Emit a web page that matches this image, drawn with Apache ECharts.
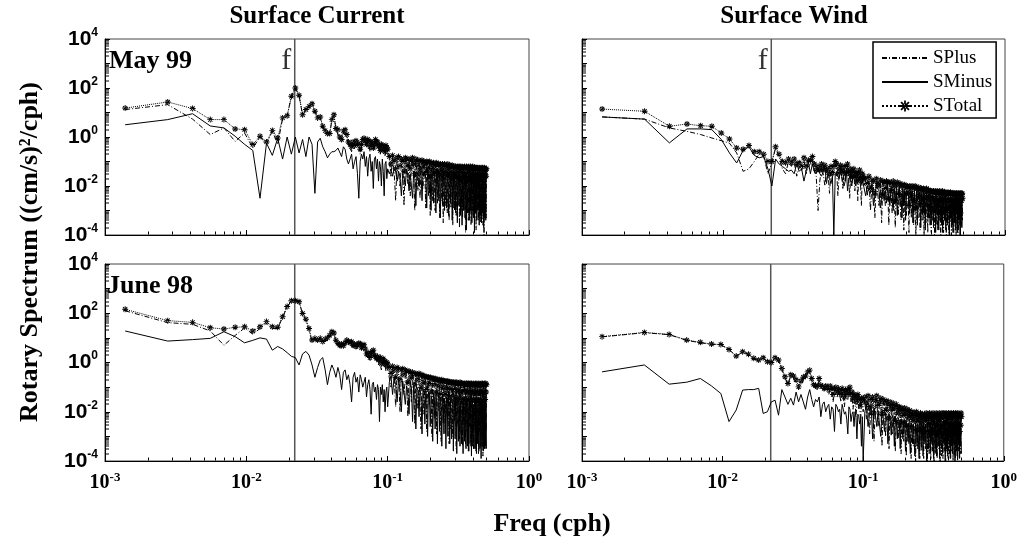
<!DOCTYPE html>
<html><head><meta charset="utf-8">
<script src="https://cdn.jsdelivr.net/npm/echarts@6.0.0/dist/echarts.min.js"></script>
<style>html,body{margin:0;padding:0;background:#fff}#chart{width:1020px;height:539px}</style>
</head><body><div id="chart"></div>
<script>
// ---------------- DATA ----------------
// Frequencies are harmonics of a 30-day hourly record: k/720 cph.
const freqResolution = 1 / 720;
const denseLimit = 72;            // every harmonic up to k=72, every second one above
const inertialFreq = 0.022;       // local inertial frequency f (cph)
const fLabelLevel = 1300;         // height of the "f" marker text
const seriesNames = ['SPlus', 'SMinus', 'STotal'];
const panelTitles = ['Surface Current', 'Surface Wind'];
const periodLabels = ['May 99', 'June 98'];
const xTickExponents = [-3, -2, -1, 0];
const yTickExponents = [-4, -2, 0, 2, 4];

// log10 of rotary spectral density ((cm/s)^2/cph), one value per harmonic
const currentMay99Total = [
1.18,1.43,1.16,0.71,0.71,0.33,0.30,-0.31,0.03,-0.2,
0.27,-0.04,0.78,0.87,1.66,2.0,1.70,0.91,1.12,1.25,
1.36,1.05,0.78,0.82,0.44,0.26,0.14,0.14,0.71,0.91,
0.35,0.30,0.0,-0.1,0.25,0.30,0.1,-0.2,-0.3,-0.4,
-0.2,-0.35,-0.15,-0.3,-0.25,-0.5,-0.3,-0.1,-0.05,-0.15,
-0.3,-0.1,-0.15,-0.4,-0.2,-0.25,-0.45,-0.3,-0.1,-0.2,
-0.2,-0.4,-0.35,-0.55,-0.3,-0.35,-0.5,-0.4,-0.6,-0.35,
-0.45,-0.5,
-0.8,-1.1,-0.75,-0.95,-1.3,-0.85,-0.8,-1.2,-0.9,-1.0,-1.4,-0.85,-0.9,-1.15,
-0.9,-1.3,-0.95,-0.85,-1.1,-1.5,-0.9,-1.0,-1.2,-0.95,-1.35,-1.0,-0.95,-1.25,
-1.0,-1.1,-1.45,-1.0,-1.05,-1.3,-1.0,-1.6,-1.05,-1.1,-1.35,-1.05,-1.2,-1.5,
-1.1,-1.05,-1.4,-1.15,-1.1,-1.55,-1.1,-1.2,-1.35,-1.1,-1.7,-1.15,-1.1,-1.4,
-1.2,-1.15,-1.5,-1.1,-1.25,-1.6,-1.15,-1.2,-1.45,-1.2,-1.15,-1.7,-1.2,-1.3,
-1.5,-1.2,-1.2,-1.6,-1.25,-1.2,-1.45,-1.3,-1.2,-1.75,-1.2,-1.25,-1.5,-1.3,
-1.2,-1.6,-1.25,-1.3,-1.5,-1.2,-1.25,-1.8,-1.25,-1.2,-1.5,-1.3,-1.25,-1.65,
-1.2,-1.3,-1.55,-1.25,-1.2,-1.7,-1.3,-1.25,-1.5,-1.2,-1.3,-1.6,-1.25,-1.25,
-1.55,-1.3,-1.25,-1.8,-1.25,-1.3,-1.5,-1.25,-1.3,-1.65,-1.3,-1.25,-1.5,-1.3,
-1.3,-1.7,-1.25,-1.3,-1.55,-1.3,-1.25,-1.6,-1.3,-1.3,-1.75,-1.25,-1.3,-1.5,
-1.3,-1.35,-1.6,-1.3];
const currentMay99Plus = [
1.12,1.32,0.73,0.1,0.37,-0.18,0.16,-0.45,0.0,-0.3,
0.25,-0.3,0.75,0.85,1.65,2.0,1.69,0.9,1.1,1.24,
1.35,1.05,0.76,0.8,0.4,0.22,0.1,0.08,0.7,0.9,
0.3,0.25,-0.1,-0.2,0.2,0.25,0.0,-0.35,-0.45,-0.6,
-0.25,-0.5,-0.3,-0.35,-0.25,-0.7,-0.5,-0.2,-0.15,-0.2,
-0.4,-0.15,-0.25,-0.6,-0.25,-0.35,-0.5,-0.45,-0.2,-0.3,
-0.3,-0.45,-0.5,-0.7,-0.35,-0.5,-0.6,-0.45,-0.8,-0.5,
-0.55,-0.65,
-0.9,-1.6,-0.85,-1.4,-2.6,-0.95,-1.0,-2.0,-1.1,-1.3,-2.8,-0.95,-1.2,-1.9,
-1.0,-2.4,-1.2,-0.95,-1.6,-3.0,-1.0,-1.4,-2.2,-1.1,-2.5,-1.3,-1.05,-2.1,
-1.15,-1.6,-2.9,-1.1,-1.4,-2.4,-1.15,-3.2,-1.2,-1.5,-2.6,-1.2,-1.7,-3.0,
-1.25,-1.4,-2.7,-1.3,-1.6,-3.3,-1.25,-1.7,-2.6,-1.3,-3.5,-1.3,-1.5,-2.8,
-1.4,-1.5,-3.1,-1.25,-1.7,-3.4,-1.3,-1.6,-2.9,-1.4,-1.5,-3.6,-1.35,-1.8,
-3.0,-1.35,-1.6,-3.2,-1.4,-1.5,-2.8,-1.5,-1.6,-3.7,-1.35,-1.7,-3.0,-1.5,
-1.4,-3.3,-1.4,-1.8,-3.0,-1.35,-1.6,-3.9,-1.4,-1.5,-3.1,-1.5,-1.4,-3.4,
-1.35,-1.7,-3.2,-1.4,-1.5,-3.6,-1.5,-1.45,-3.0,-1.35,-1.7,-3.3,-1.4,-1.5,
-3.1,-1.5,-1.4,-3.8,-1.4,-1.7,-3.0,-1.4,-1.6,-3.4,-1.5,-1.45,-3.2,-1.5,
-1.6,-3.5,-1.4,-1.7,-3.1,-1.5,-1.4,-3.6,-1.5,-1.6,-4.0,-1.4,-1.7,-3.0,
-1.5,-1.6,-3.3,-1.5];
const currentMay99Minus = [
0.50,0.71,0.95,0.45,0.37,0.03,-0.3,-0.55,-2.5,-0.25,
-0.75,-0.05,-0.9,0.0,-0.7,0.0,-0.65,-0.1,-0.8,0.0,
-0.3,-2.3,-0.2,-0.05,-0.4,-0.6,-0.85,-0.7,-0.6,-0.6,
-0.55,-0.45,-0.5,-0.8,-0.4,-0.5,-0.9,-1.1,-0.9,-0.7,
-1.3,-1.0,-0.8,-1.5,-2.5,-1.0,-0.7,-0.9,-0.6,-1.2,
-0.8,-1.6,-0.9,-0.7,-1.4,-1.0,-2.1,-0.9,-0.8,-1.3,
-0.9,-1.8,-1.0,-1.2,-2.0,-0.9,-1.4,-2.4,-1.1,-1.0,
-1.7,-1.3,
-1.5,-1.3,-1.6,-1.3,-1.4,-1.8,-1.4,-1.6,-2.4,-1.5,-1.7,-2.0,-1.3,-1.6,
-2.2,-1.5,-1.5,-2.5,-1.4,-1.7,-2.8,-1.4,-1.6,-2.0,-1.6,-1.4,-2.6,-1.5,
-1.6,-1.4,-1.7,-2.9,-1.3,-1.5,-2.3,-1.7,-3.0,-1.4,-1.6,-2.7,-1.4,-1.7,
-3.1,-1.3,-1.6,-2.6,-1.4,-1.8,-3.3,-1.4,-1.5,-2.8,-1.8,-1.4,-3.0,-1.6,
-1.5,-2.9,-1.7,-1.4,-3.2,-1.7,-1.5,-2.7,-1.6,-1.4,-3.4,-1.8,-1.5,-2.9,
-1.6,-1.5,-3.1,-1.7,-1.5,-3.5,-1.6,-1.5,-2.8,-1.9,-1.5,-3.2,-1.6,-1.6,
-3.6,-1.7,-1.5,-3.0,-1.6,-1.5,-3.3,-1.7,-1.5,-3.8,-1.6,-1.6,-3.1,-1.7,
-1.5,-3.4,-1.7,-1.5,-3.0,-1.8,-1.5,-3.5,-1.6,-1.5,-3.2,-1.7,-1.5,-3.9,
-1.7,-1.6,-3.1,-1.8,-1.5,-3.4,-1.6,-1.5,-3.0,-1.8,-1.6,-3.6,-1.6,-1.6,
-3.2,-1.8,-1.6,-3.5,-1.7,-1.5,-3.1,-1.8,-1.6,-3.7,-1.6,-1.6,-3.3,-1.7,
-1.6,-3.4,-1.7,-1.6];

const windMay99Total = [
1.14,1.05,0.44,0.53,0.46,0.44,0.16,-0.08,-0.45,-0.5,
-0.35,-0.6,-0.6,-0.7,-1.0,-1.0,-0.4,-0.7,-1.0,-1.05,
-0.9,-1.05,-0.9,-1.1,-1.05,-1.2,-0.85,-1.2,-0.95,-0.95,
-0.8,-1.1,-1.35,-1.2,-1.35,-1.1,-1.3,-1.15,-1.35,-1.3,
-1.5,-1.2,-1.45,-1.2,-1.0,-1.1,-1.5,-1.3,-1.15,-1.35,
-1.45,-1.2,-1.5,-1.2,-1.1,-1.4,-1.5,-1.3,-1.6,-1.4,
-1.3,-1.6,-1.55,-1.45,-1.7,-1.5,-1.35,-1.65,-1.8,-1.5,
-1.6,-1.7,
-1.7,-1.9,-1.6,-2.1,-1.75,-1.8,-2.3,-1.7,-1.9,-2.0,-1.75,-2.4,-1.8,-1.85,
-2.1,-1.8,-1.85,-2.5,-1.85,-1.9,-2.2,-1.8,-2.0,-2.6,-1.9,-1.85,-2.3,-1.95,
-1.9,-2.4,-2.0,-1.95,-2.7,-1.95,-2.0,-2.3,-2.0,-2.1,-2.8,-2.0,-2.05,-2.4,
-2.0,-2.1,-2.6,-2.05,-2.0,-2.9,-2.1,-2.1,-2.4,-2.05,-2.2,-2.7,-2.1,-2.1,
-2.5,-2.15,-2.1,-3.0,-2.15,-2.2,-2.5,-2.1,-2.2,-2.8,-2.15,-2.2,-2.4,-2.2,
-2.2,-2.9,-2.2,-2.25,-2.5,-2.2,-2.25,-3.0,-2.2,-2.3,-2.6,-2.25,-2.2,-2.8,
-2.3,-2.25,-2.5,-2.2,-2.3,-3.1,-2.25,-2.3,-2.6,-2.2,-2.3,-2.9,-2.3,-2.25,
-2.5,-2.3,-2.25,-3.0,-2.3,-2.3,-2.6,-2.25,-2.3,-2.9,-2.3,-2.3,-2.55,-2.25,
-2.3,-3.1,-2.3,-2.35,-2.6,-2.3,-2.3,-2.9,-2.35,-2.3,-2.5,-2.3,-2.35,-3.0,
-2.3,-2.3,-2.6,-2.35,-2.3,-2.95,-2.3,-2.35,-2.5,-2.3,-2.35,-3.1,-2.3,-2.3,
-2.6,-2.35,-2.3,-2.5];
const windMay99Plus = [
0.82,0.73,0.37,0.23,0.1,-0.04,-0.15,-0.25,-0.65,-1.4,
-1.3,-1.0,-0.7,-0.8,-1.5,-1.05,-0.45,-0.8,-1.3,-1.5,
-1.0,-1.2,-1.0,-1.6,-1.2,-1.4,-0.95,-1.5,-1.2,-1.1,
-0.9,-1.4,-1.6,-3.0,-1.8,-1.2,-1.5,-2.0,-1.4,-1.5,
-2.3,-1.3,-1.7,-1.4,-1.1,-1.3,-2.4,-1.5,-1.3,-1.6,
-2.1,-1.3,-1.8,-1.4,-1.2,-1.6,-2.5,-1.4,-1.9,-1.6,
-1.4,-2.2,-1.7,-1.6,-2.6,-1.6,-1.5,-1.9,-2.8,-1.6,
-1.8,-2.0,
-1.8,-2.4,-1.7,-3.0,-1.9,-2.0,-3.3,-1.8,-2.3,-2.8,-1.9,-3.5,-1.9,-2.1,
-2.8,-1.9,-2.1,-3.6,-2.0,-2.2,-3.1,-1.9,-2.4,-3.7,-2.0,-2.0,-3.2,-2.1,
-2.1,-3.4,-2.1,-2.2,-3.8,-2.1,-2.3,-3.2,-2.1,-2.4,-3.9,-2.1,-2.3,-3.3,
-2.2,-2.4,-3.6,-2.2,-2.2,-4.0,-2.3,-2.4,-3.3,-2.2,-2.5,-3.8,-2.3,-2.3,
-3.4,-2.3,-2.4,-4.0,-2.3,-2.5,-3.5,-2.3,-2.5,-3.9,-2.3,-2.4,-3.3,-2.4,
-2.4,-3.9,-2.4,-2.5,-3.4,-2.4,-2.5,-4.0,-2.4,-2.6,-3.6,-2.4,-2.4,-3.8,
-2.5,-2.45,-3.4,-2.4,-2.6,-4.0,-2.35,-2.5,-3.6,-2.45,-2.55,-3.9,-2.5,-2.4,
-3.4,-2.55,-2.4,-4.0,-2.5,-2.45,-3.6,-2.4,-2.55,-3.9,-2.5,-2.45,-3.5,-2.4,
-2.5,-4.0,-2.45,-2.6,-3.6,-2.5,-2.4,-3.9,-2.55,-2.5,-3.4,-2.45,-2.6,-4.0,
-2.5,-2.4,-3.6,-2.55,-2.5,-3.9,-2.45,-2.6,-3.4,-2.5,-2.4,-4.0,-2.55,-2.5,
-3.6,-2.45,-2.55,-3.4];
const windMay99Minus = [
0.82,0.73,-0.24,0.33,0.33,0.3,-0.1,-0.65,-1.06,-0.55,
-0.4,-0.75,-0.85,-0.8,-1.3,-2.0,-0.9,-1.1,-1.2,-1.3,
-1.4,-1.35,-1.5,-1.1,-1.4,-1.3,-1.8,-1.4,-1.0,-1.5,
-1.1,-1.4,-1.5,-1.25,-1.5,-1.6,-1.6,-1.2,-1.9,-1.5,
-1.7,-1.9,-1.6,-4.0,-1.5,-1.5,-1.6,-1.7,-1.4,-1.6,
-1.6,-2.0,-1.8,-1.3,-2.2,-1.8,-1.6,-1.6,-2.0,-1.6,
-1.7,-1.8,-2.0,-1.7,-1.9,-1.8,-1.6,-2.0,-1.9,-1.8,
-1.9,-1.9,
-2.4,-2.0,-2.2,-2.3,-1.9,-2.8,-2.4,-2.0,-2.1,-2.2,-2.9,-2.6,-2.1,-2.6,
-2.2,-2.7,-1.9,-2.6,-2.8,-2.0,-2.3,-3.0,-2.1,-2.7,-2.2,-3.2,-2.4,-2.0,
-2.8,-2.5,-3.3,-2.1,-2.8,-2.2,-3.4,-2.4,-2.3,-2.2,-2.9,-3.1,-2.2,-2.6,
-2.2,-3.5,-2.7,-2.3,-3.0,-2.9,-2.2,-3.6,-2.6,-2.3,-2.3,-2.8,-3.7,-2.3,
-2.6,-3.2,-2.2,-3.1,-2.4,-3.8,-2.7,-2.3,-2.3,-3.0,-3.3,-2.4,-2.5,-3.6,
-2.4,-3.0,-3.4,-2.4,-2.6,-3.7,-2.5,-3.1,-2.4,-3.9,-2.6,-2.4,-3.2,-3.0,
-2.5,-3.8,-2.6,-2.4,-3.3,-2.9,-2.5,-3.6,-2.4,-3.9,-2.7,-2.5,-3.0,-3.4,
-2.4,-2.6,-3.8,-2.5,-2.6,-3.1,-3.5,-2.5,-2.6,-2.5,-4.0,-2.5,-2.7,-3.3,
-3.0,-2.5,-3.6,-2.5,-2.7,-3.9,-2.5,-2.6,-3.2,-3.5,-2.5,-2.7,-3.8,-2.6,
-3.1,-2.5,-2.7,-3.9,-2.5,-3.3,-2.6,-3.6,-2.5,-2.7,-4.0,-2.6,-3.0,-2.6,
-2.5,-3.7,-2.6,-2.6];

const currentJun98Total = [
2.16,1.70,1.63,1.41,1.36,1.43,1.45,1.28,1.45,1.66,
1.45,1.43,1.86,2.27,2.51,2.51,2.47,1.99,1.76,1.38,
0.91,0.98,0.91,0.98,0.85,0.95,1.0,1.11,1.25,1.2,
0.9,0.78,0.7,0.75,0.68,0.8,0.91,0.85,0.8,0.84,
0.7,0.75,0.65,0.72,0.78,0.76,0.6,0.68,0.72,0.55,
0.35,0.3,0.4,0.2,0.35,0.45,0.5,0.3,0.25,0.17,
0.25,0.1,0.15,0.2,-0.05,0.1,0.15,0.0,0.05,-0.1,
0.0,-0.05,
-0.2,-0.45,-0.15,-0.3,-0.6,-0.2,-0.25,-0.7,-0.3,-0.25,-0.5,-0.3,-0.35,-0.8,
-0.35,-0.4,-0.6,-0.4,-0.45,-0.9,-0.45,-0.5,-0.7,-0.45,-0.5,-1.0,-0.5,-0.55,
-0.8,-0.55,-0.6,-1.1,-0.6,-0.6,-0.85,-0.6,-0.65,-1.2,-0.65,-0.65,-0.9,-0.65,
-0.7,-1.2,-0.7,-0.7,-0.95,-0.7,-0.75,-1.3,-0.7,-0.75,-1.0,-0.75,-0.75,-1.3,
-0.75,-0.8,-1.05,-0.75,-0.8,-1.4,-0.8,-0.8,-1.1,-0.8,-0.8,-1.35,-0.8,-0.85,
-1.1,-0.8,-0.85,-1.45,-0.8,-0.85,-1.15,-0.85,-0.85,-1.4,-0.8,-0.85,-1.2,-0.85,
-0.85,-1.5,-0.85,-0.9,-1.15,-0.85,-0.9,-1.45,-0.85,-0.85,-1.2,-0.9,-0.85,-1.5,
-0.85,-0.9,-1.2,-0.85,-0.9,-1.55,-0.85,-0.9,-1.2,-0.9,-0.85,-1.5,-0.9,-0.9,
-1.25,-0.85,-0.9,-1.5,-0.9,-0.85,-1.2,-0.9,-0.9,-1.55,-0.85,-0.9,-1.25,-0.9,
-0.9,-1.5,-0.85,-0.9,-1.2,-0.9,-0.85,-1.6,-0.9,-0.9,-1.25,-0.85,-0.9,-1.5,
-0.9,-0.85,-1.2,-0.9];
const currentJun98Plus = [
2.1,1.62,1.55,1.28,0.7,1.1,1.4,1.15,1.38,1.6,
1.38,1.38,1.83,2.26,2.5,2.5,2.46,1.97,1.72,1.3,
0.85,0.92,0.85,0.92,0.78,0.9,0.95,1.08,1.22,1.17,
0.85,0.7,0.6,0.68,0.58,0.74,0.87,0.8,0.74,0.78,
0.6,0.72,0.55,0.66,0.74,0.7,0.5,0.6,0.67,0.45,
0.2,0.15,0.32,0.05,0.25,0.38,0.45,0.2,0.1,0.05,
0.15,-0.1,0.05,0.1,-0.3,0.0,0.05,-0.2,-0.1,-0.35,
-0.15,-0.25,
-0.3,-1.0,-0.25,-0.6,-1.8,-0.35,-0.5,-2.0,-0.45,-0.4,-1.3,-0.6,-0.5,-2.2,
-0.55,-0.7,-1.6,-0.5,-0.85,-2.5,-0.65,-0.6,-1.9,-0.75,-0.7,-2.7,-0.6,-0.9,
-2.1,-0.8,-0.7,-2.8,-0.95,-0.75,-1.7,-0.8,-1.0,-3.0,-0.85,-0.8,-2.3,-1.0,
-0.85,-2.9,-0.9,-1.05,-2.0,-0.95,-0.9,-3.2,-0.85,-1.1,-2.5,-0.95,-1.0,-2.9,
-1.1,-0.9,-2.2,-1.0,-1.15,-3.3,-0.95,-1.0,-2.7,-1.2,-0.95,-3.0,-1.05,-1.1,
-2.4,-0.95,-1.2,-3.5,-1.0,-1.05,-2.6,-1.2,-0.95,-3.1,-1.1,-1.0,-2.9,-1.25,
-1.0,-3.4,-1.1,-1.2,-2.5,-0.95,-1.15,-3.3,-1.05,-1.25,-2.8,-1.0,-1.1,-3.6,
-1.2,-1.0,-2.6,-1.15,-1.0,-3.4,-1.25,-1.05,-3.0,-1.1,-1.2,-3.5,-1.0,-1.15,
-2.7,-1.2,-1.0,-3.6,-1.1,-1.25,-2.9,-1.0,-1.15,-3.7,-1.2,-1.05,-2.8,-1.15,
-1.0,-3.4,-1.2,-1.1,-3.0,-1.05,-1.2,-3.8,-1.1,-1.0,-2.9,-1.2,-1.1,-3.5,
-1.05,-1.2,-2.8,-1.1];
const currentJun98Minus = [
1.28,0.87,0.93,0.98,1.25,1.05,0.8,0.9,1.0,0.95,
0.5,0.65,0.55,0.4,0.25,0.2,-0.1,0.35,0.45,0.3,
-0.1,-0.6,-0.2,0.1,0.2,-0.3,-0.9,-0.4,-0.1,-0.3,
-0.6,-0.2,-0.5,-1.1,-0.4,-0.3,-0.7,-0.5,-0.9,-1.6,
-0.6,-0.4,-0.8,-0.6,-1.2,-0.5,-0.7,-1.0,-0.8,-0.6,
-1.4,-0.9,-0.7,-1.1,-2.1,-0.9,-0.8,-1.2,-1.0,-1.5,
-0.9,-1.1,-2.4,-1.0,-1.3,-0.9,-1.6,-1.1,-2.0,-1.2,
-1.0,-1.8,
-0.8,-0.55,-1.3,-0.6,-0.9,-1.6,-0.65,-1.1,-2.0,-0.75,-0.8,-1.7,-0.95,-1.2,
-2.1,-0.85,-1.0,-2.4,-0.95,-1.3,-2.7,-1.0,-1.15,-2.2,-1.1,-1.4,-2.9,-1.05,
-1.25,-2.5,-1.15,-1.45,-3.0,-1.2,-1.3,-2.6,-1.35,-1.5,-3.2,-1.25,-1.4,-2.7,
-1.3,-1.6,-3.3,-1.35,-1.45,-2.8,-1.4,-1.7,-3.4,-1.3,-1.5,-2.9,-1.45,-1.65,
-3.5,-1.4,-1.55,-3.0,-1.35,-1.75,-3.3,-1.5,-1.45,-3.1,-1.6,-1.7,-3.6,-1.45,
-1.55,-3.1,-1.4,-1.85,-3.7,-1.5,-1.6,-3.2,-1.45,-1.9,-3.4,-1.55,-1.5,-3.3,
-1.6,-1.95,-3.7,-1.5,-1.65,-3.2,-1.55,-1.9,-3.5,-1.6,-1.5,-3.4,-1.65,-2.0,
-3.6,-1.5,-1.7,-3.3,-1.55,-2.1,-3.8,-1.6,-1.5,-3.4,-1.7,-2.0,-3.5,-1.55,
-1.65,-3.5,-1.5,-2.1,-3.7,-1.6,-1.55,-3.3,-1.7,-2.0,-3.6,-1.5,-1.65,-3.5,
-1.6,-2.1,-3.9,-1.55,-1.7,-3.4,-1.5,-2.0,-3.6,-1.65,-1.55,-3.5,-1.6,-2.1,
-3.4,-1.55,-1.7,-3.5];

const windJun98Total = [
1.05,1.22,1.14,0.91,0.82,0.75,0.73,0.53,0.26,0.44,
0.34,0.17,0.1,0.19,0.03,0.0,0.19,0.1,-0.24,-0.58,
-0.85,-0.5,-0.55,-0.7,-0.99,-0.75,-0.6,-0.55,-0.38,-0.31,
-0.65,-0.9,-0.92,-0.98,-0.65,-0.92,-0.98,-1.05,-0.95,-0.98,
-1.1,-0.95,-1.05,-1.3,-1.05,-1.0,-1.2,-1.05,-1.15,-1.3,
-1.05,-1.2,-1.4,-1.1,-1.15,-1.25,-1.05,-1.0,-1.3,-1.2,
-1.45,-1.3,-1.35,-1.6,-1.4,-1.3,-1.5,-1.45,-1.7,-1.45,
-1.5,-1.55,
-1.4,-1.65,-1.35,-1.85,-1.5,-1.4,-2.05,-1.55,-1.35,-1.75,-1.6,-1.45,-2.1,-1.5,
-1.6,-1.95,-1.55,-1.7,-2.25,-1.6,-1.75,-1.9,-1.65,-1.8,-2.35,-1.7,-1.85,-2.05,
-1.8,-1.9,-2.45,-1.85,-1.95,-2.15,-1.85,-2.0,-2.55,-1.9,-2.05,-2.25,-1.95,-2.1,
-2.6,-2.0,-2.15,-2.3,-2.05,-2.2,-2.7,-2.0,-2.15,-2.4,-2.1,-2.25,-2.75,-2.05,
-2.2,-2.45,-2.1,-2.25,-2.85,-2.1,-2.2,-2.35,-2.05,-2.3,-2.8,-2.1,-2.2,-2.5,
-2.05,-2.25,-2.9,-2.1,-2.2,-2.45,-2.05,-2.3,-2.85,-2.1,-2.15,-2.55,-2.05,-2.25,
-2.95,-2.1,-2.2,-2.4,-2.05,-2.25,-2.8,-2.1,-2.2,-2.6,-2.05,-2.2,-2.9,-2.15,
-2.05,-2.5,-2.15,-2.25,-2.85,-2.05,-2.2,-2.45,-2.1,-2.25,-2.95,-2.05,-2.2,-2.55,
-2.1,-2.2,-2.8,-2.05,-2.25,-2.5,-2.1,-2.2,-2.9,-2.05,-2.15,-2.6,-2.1,-2.25,
-2.85,-2.05,-2.2,-2.45,-2.1,-2.25,-2.95,-2.05,-2.2,-2.5,-2.1,-2.15,-2.8,-2.1,
-2.2,-2.55,-2.05,-2.2];
const windJun98Plus = [
1.04,1.21,1.13,0.9,0.8,0.74,0.72,0.53,0.25,0.43,
0.33,0.15,0.08,0.18,0.0,-0.03,0.17,0.09,-0.27,-0.62,
-0.9,-0.55,-0.65,-0.8,-1.1,-0.9,-0.7,-0.6,-0.4,-0.35,
-0.7,-1.0,-1.0,-1.1,-0.7,-1.0,-1.1,-1.2,-1.05,-1.1,
-1.3,-1.05,-1.2,-1.6,-1.2,-1.1,-1.4,-1.2,-1.3,-1.6,
-1.2,-1.4,-1.8,-1.25,-1.3,-1.5,-1.2,-1.1,-1.6,-1.4,
-1.9,-1.5,-1.6,-2.2,-1.7,-1.5,-1.9,-1.7,-2.4,-1.7,
-1.8,-2.0,
-1.5,-2.3,-1.45,-2.9,-1.65,-1.5,-3.2,-1.7,-1.45,-2.6,-1.75,-1.6,-3.4,-1.65,
-1.8,-3.0,-1.7,-1.9,-3.5,-1.75,-1.95,-2.9,-1.8,-2.0,-3.6,-1.85,-2.05,-3.1,
-1.95,-2.1,-3.7,-2.0,-2.15,-3.2,-2.0,-2.2,-3.8,-2.05,-2.25,-3.3,-2.1,-2.3,
-3.9,-2.15,-2.35,-3.4,-2.2,-2.4,-4.0,-2.15,-2.35,-3.5,-2.25,-2.45,-3.9,-2.2,
-2.4,-3.6,-2.25,-2.45,-3.9,-2.3,-2.4,-3.5,-2.2,-2.5,-4.0,-2.3,-2.4,-3.7,
-2.2,-2.45,-3.9,-2.3,-2.4,-3.6,-2.2,-2.5,-4.0,-2.3,-2.35,-3.7,-2.2,-2.45,
-3.9,-2.3,-2.4,-3.5,-2.2,-2.45,-4.0,-2.3,-2.4,-3.8,-2.2,-2.4,-3.9,-2.35,
-2.2,-3.6,-2.35,-2.45,-4.0,-2.2,-2.4,-3.6,-2.3,-2.45,-3.9,-2.2,-2.4,-3.7,
-2.3,-2.4,-3.9,-2.2,-2.45,-3.6,-2.3,-2.4,-4.0,-2.2,-2.35,-3.8,-2.3,-2.45,
-3.9,-2.2,-2.4,-3.6,-2.3,-2.45,-4.0,-2.2,-2.4,-3.6,-2.3,-2.35,-3.9,-2.25,
-2.4,-3.7,-2.2,-2.4];
const windJun98Minus = [
-0.38,-0.1,-0.88,-0.8,-0.65,-0.95,-1.26,-2.4,-1.93,-1.12,
-1.1,-1.1,-1.05,-2.07,-2.0,-1.6,-1.53,-2.14,-1.1,-1.4,
-1.7,-1.45,-1.73,-1.2,-1.6,-1.3,-1.6,-1.9,-1.4,-1.1,
-1.5,-1.8,-1.5,-1.6,-1.4,-2.2,-1.7,-1.6,-2.0,-1.8,
-1.7,-2.3,-1.8,-1.9,-2.8,-1.7,-1.8,-2.0,-1.9,-2.5,
-1.7,-1.9,-2.1,-2.0,-2.3,-2.9,-1.8,-1.9,-2.4,-2.1,
-2.0,-2.6,-2.0,-2.2,-3.1,-2.1,-2.2,-2.5,-2.3,-3.4,
-2.2,-4.0,
-2.0,-1.75,-2.6,-2.05,-1.7,-3.1,-1.85,-2.15,-2.6,-1.95,-2.0,-3.0,-1.95,-2.25,
-2.8,-2.05,-2.15,-3.3,-2.1,-2.3,-2.95,-2.15,-2.25,-3.4,-2.2,-2.4,-3.1,-2.25,
-2.35,-3.5,-2.3,-2.5,-3.1,-2.35,-2.45,-3.6,-2.4,-2.55,-3.2,-2.45,-2.5,-3.7,
-2.45,-2.6,-3.3,-2.5,-2.55,-3.8,-2.45,-2.65,-3.4,-2.5,-2.55,-3.9,-2.5,-2.6,
-3.4,-2.5,-2.6,-3.8,-2.45,-2.65,-3.3,-2.5,-2.55,-4.0,-2.45,-2.65,-3.5,-2.5,
-2.6,-3.7,-2.45,-2.65,-3.3,-2.5,-2.55,-3.9,-2.45,-2.7,-3.5,-2.5,-2.6,-3.8,
-2.45,-2.65,-3.3,-2.5,-2.6,-3.9,-2.45,-2.7,-3.4,-2.5,-2.55,-3.7,-2.45,-2.65,
-3.3,-2.5,-2.6,-4.0,-2.45,-2.65,-3.5,-2.5,-2.55,-3.8,-2.45,-2.7,-3.3,-2.5,
-2.6,-3.9,-2.45,-2.65,-3.4,-2.5,-2.55,-3.7,-2.45,-2.7,-3.3,-2.5,-2.6,-4.0,
-2.45,-2.65,-3.5,-2.5,-2.55,-3.8,-2.45,-2.7,-3.3,-2.5,-2.6,-3.9,-2.45,-2.65,
-3.4,-2.5,-2.55,-3.7];

// ---------------- BUILD ----------------
const harmonics = [];
for (let k = 1; k <= 360; k++) { if (k <= denseLimit || k % 2 === 0) harmonics.push(k); }
const freqs = harmonics.map(k => k * freqResolution);
function toPoints(logVals) { return logVals.map((v, i) => [freqs[i], Math.pow(10, v)]); }

const panels = [
  { plus: currentMay99Plus, minus: currentMay99Minus, total: currentMay99Total, showF: true },
  { plus: windMay99Plus, minus: windMay99Minus, total: windMay99Total, showF: true },
  { plus: currentJun98Plus, minus: currentJun98Minus, total: currentJun98Total, showF: false },
  { plus: windJun98Plus, minus: windJun98Minus, total: windJun98Total, showF: false }
];
const gridBoxes = [[105, 39, 424, 196], [582, 39, 423, 196], [105, 264, 424, 197], [582, 264, 423, 197]];
const Y_MIN = 1e-4, Y_MAX = 1e4, X_MIN = 1e-3, X_MAX = 1;

const SERIF = '"Liberation Serif", "Times New Roman", serif';
const SANS = '"Liberation Sans", Arial, sans-serif';
const asterisk = 'path://M-1.6,-10L1.6,-10L1.6,10L-1.6,10Z M-10,-1.6L10,-1.6L10,1.6L-10,1.6Z M-8.2,-5.9L5.9,8.2L8.2,5.9L-5.9,-8.2Z M-8.2,5.9L5.9,-8.2L8.2,-5.9L-5.9,8.2Z';

function powerLabel(v) {
  const e = Math.round(Math.log10(v));
  return xTickExponents.indexOf(e) >= 0 ? '{b|10}{s|' + e + '}' : '';
}
function yPowerLabel(v) {
  const e = Math.round(Math.log10(v));
  return yTickExponents.indexOf(e) >= 0 ? '{b|10}{s|' + e + '}' : '';
}
const xRich = {
  b: { fontFamily: SERIF, fontWeight: 'bold', fontSize: 20, color: '#000', verticalAlign: 'bottom', lineHeight: 20 },
  s: { fontFamily: SERIF, fontWeight: 'bold', fontSize: 13, color: '#000', verticalAlign: 'bottom', lineHeight: 13, padding: [0, 0, 9, 0] }
};
const yRich = {
  b: { fontFamily: SANS, fontWeight: 'bold', fontSize: 21, color: '#000', verticalAlign: 'bottom', lineHeight: 21 },
  s: { fontFamily: SANS, fontWeight: 'bold', fontSize: 12, color: '#000', verticalAlign: 'bottom', lineHeight: 12, padding: [0, 0, 11, 0] }
};

// minor tick values (2..9 per decade)
const minorX = [], minorY = [];
for (let d = -3; d < 0; d++) for (let m = 2; m <= 9; m++) minorX.push(m * Math.pow(10, d));
for (let d = -4; d < 4; d++) for (let m = 2; m <= 9; m++) minorY.push(m * Math.pow(10, d));

const grid = [], xAxis = [], yAxis = [], series = [];
gridBoxes.forEach((b, g) => {
  grid.push({ left: b[0], top: b[1], width: b[2], height: b[3], show: true, borderColor: '#444', borderWidth: 1, backgroundColor: 'transparent' });
  xAxis.push({
    type: 'log', logBase: 10, gridIndex: g, min: X_MIN, max: X_MAX, splitNumber: 3,
    axisLine: { show: true, onZero: false, lineStyle: { color: '#000', width: 1 } },
    axisTick: { show: true, inside: true, length: 5, lineStyle: { color: '#000', width: 1 } },
    minorTick: { show: false }, splitLine: { show: false },
    axisLabel: { show: g >= 2, margin: 12, formatter: powerLabel, rich: xRich, showMinLabel: true, showMaxLabel: true, hideOverlap: false }
  });
  yAxis.push({
    type: 'log', logBase: 10, gridIndex: g, min: Y_MIN, max: Y_MAX, splitNumber: 8,
    axisLine: { show: true, onZero: false, lineStyle: { color: '#000', width: 1 } },
    axisTick: { show: true, inside: true, length: 5, lineStyle: { color: '#000', width: 1 } },
    minorTick: { show: false }, splitLine: { show: false },
    axisLabel: { show: g % 2 === 0, margin: 7, formatter: yPowerLabel, rich: yRich, showMinLabel: true, showMaxLabel: true, hideOverlap: false }
  });
  const p = panels[g];
  // vertical line at the inertial frequency
  series.push({
    name: 'inertial', type: 'line', xAxisIndex: g, yAxisIndex: g,
    data: [[inertialFreq, Y_MIN], [inertialFreq, Y_MAX]], symbol: 'none', silent: true,
    lineStyle: { color: '#555', width: 1.5, type: 'solid' }, z: 2
  });
  series.push({
    name: 'SMinus', type: 'line', xAxisIndex: g, yAxisIndex: g, data: toPoints(p.minus),
    symbol: 'none', lineStyle: { color: '#000', width: 1, type: 'solid' }, itemStyle: { color: '#000' }, z: 3
  });
  series.push({
    name: 'SPlus', type: 'line', xAxisIndex: g, yAxisIndex: g, data: toPoints(p.plus),
    symbol: 'none', lineStyle: { color: '#000', width: 1, type: [5, 2, 1, 2] }, itemStyle: { color: '#000' }, z: 4
  });
  series.push({
    name: 'STotal', type: 'line', xAxisIndex: g, yAxisIndex: g, data: toPoints(p.total),
    symbol: asterisk, symbolSize: 6, showSymbol: true, showAllSymbol: true,
    lineStyle: { color: '#000', width: 1, type: 'dotted' }, itemStyle: { color: '#000' }, z: 5
  });
  if (p.showF) {
    series.push({
      name: 'fLabel', type: 'scatter', xAxisIndex: g, yAxisIndex: g, data: [[inertialFreq, fLabelLevel]],
      symbolSize: 1, itemStyle: { color: 'rgba(0,0,0,0)' }, silent: true, z: 6,
      label: { show: true, formatter: 'f', position: 'left', distance: 3, fontFamily: SERIF, fontSize: 30, color: '#000' }
    });
  }
  const tickData = minorX.map(v => [v, Y_MIN, 0]).concat(minorY.map(v => [X_MIN, v, 1]));
  series.push({
    name: 'minorTicks', type: 'custom', xAxisIndex: g, yAxisIndex: g, data: tickData,
    encode: { x: 0, y: 1 }, silent: true, clip: false, z: 7,
    renderItem: function (params, api) {
      const kind = api.value(2);
      const pt = api.coord([api.value(0), api.value(1)]);
      const x = Math.round(pt[0]) + 0.5, y = Math.round(pt[1]) - 0.5;
      const shape = kind === 0 ? { x1: x, y1: y, x2: x, y2: y - 3 } : { x1: x + 0.5, y1: y + 0.5, x2: x + 3.5, y2: y + 0.5 };
      return { type: 'line', shape: shape, style: { stroke: '#000', lineWidth: 1 } };
    }
  });
});

const titleFont = 'bold 25px ' + SERIF;
const axisTitleFont = 'bold 26px ' + SERIF;
const hiddenMarker = { color: 'rgba(0,0,0,0)', borderColor: 'rgba(0,0,0,0)', borderWidth: 0 };
const option = {
  animation: false,
  backgroundColor: '#fff',
  grid, xAxis, yAxis, series,
  legend: {
    data: [
      { name: seriesNames[0], itemStyle: hiddenMarker },
      { name: seriesNames[1], itemStyle: hiddenMarker },
      { name: seriesNames[2] }
    ],
    orient: 'vertical', left: 873, top: 42,
    padding: [6, 4, 2, 8], itemGap: 4, itemWidth: 46, itemHeight: 14,
    borderColor: '#000', borderWidth: 1.5, borderRadius: 0, backgroundColor: '#fff',
    selectedMode: false,
    textStyle: { fontFamily: SERIF, fontSize: 19, color: '#000', lineHeight: 20 }
  },
  graphic: [
    { type: 'text', x: 317, y: 17, style: { text: panelTitles[0], font: titleFont, fill: '#000', textAlign: 'center', textVerticalAlign: 'middle' } },
    { type: 'text', x: 794, y: 17, style: { text: panelTitles[1], font: titleFont, fill: '#000', textAlign: 'center', textVerticalAlign: 'middle' } },
    { type: 'text', x: 30, y: 252, rotation: Math.PI / 2, style: { text: 'Rotary Spectrum ((cm/s)\u00B2/cph)', font: axisTitleFont, fill: '#000', textAlign: 'center', textVerticalAlign: 'middle' } },
    { type: 'text', x: 552, y: 524, style: { text: 'Freq (cph)', font: axisTitleFont, fill: '#000', textAlign: 'center', textVerticalAlign: 'middle' } },
    { type: 'text', x: 109, y: 61, style: { text: periodLabels[0], font: 'bold 26px ' + SERIF, fill: '#000', textAlign: 'left', textVerticalAlign: 'middle' } },
    { type: 'text', x: 107, y: 286, style: { text: periodLabels[1], font: 'bold 26px ' + SERIF, fill: '#000', textAlign: 'left', textVerticalAlign: 'middle' } }
  ]
};
const chart = echarts.init(document.getElementById('chart'), null, { renderer: 'canvas' });
chart.setOption(option);
</script></body></html>
